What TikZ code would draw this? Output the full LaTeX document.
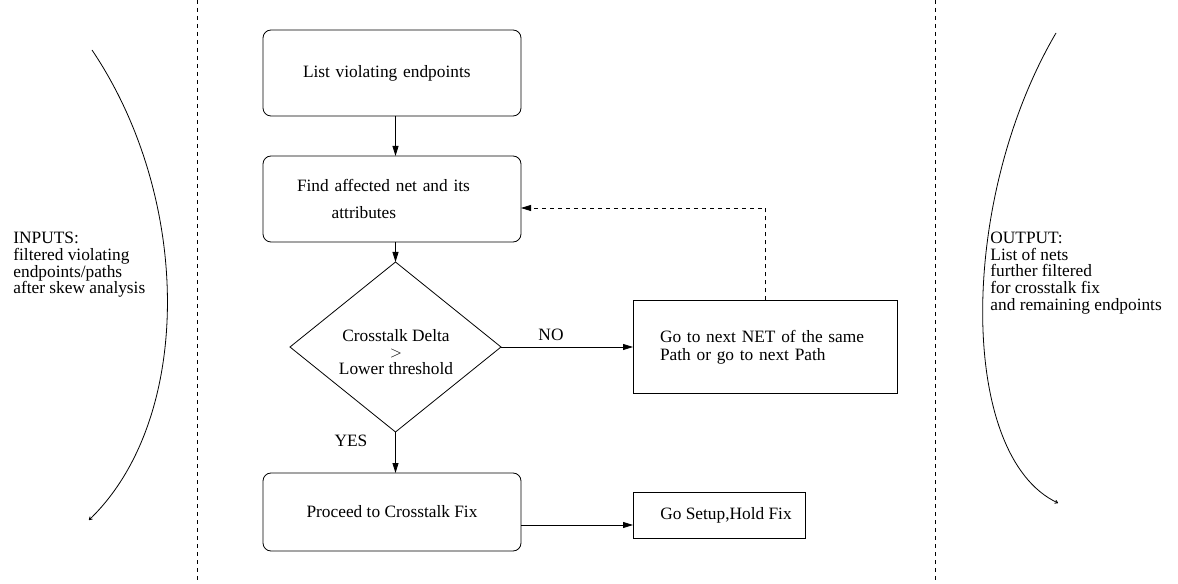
\documentclass[tikz,border=0pt]{standalone}
\usepackage{fontspec}
\setmainfont{Liberation Serif}
\usetikzlibrary{shapes.geometric,arrows.meta}

\tikzset{
  flowbox/.style={draw, rounded corners=6pt, inner sep=0pt, outer sep=0pt, align=center},
  plainbox/.style={draw, inner sep=0pt, outer sep=0pt, align=left},
  decision/.style={draw, diamond, inner sep=0pt, outer sep=0pt},
  flowarrow/.style={-{Triangle[length=7.5pt,width=4.5pt]}},
  sidearrow/.style={-{To[length=2.5pt,width=3pt]}},
  sidetext/.style={anchor=west, inner sep=0pt, align=left}
}

\begin{document}
\begin{tikzpicture}[x=0.75pt,y=0.75pt,yscale=-1,xscale=1,line width=0.6pt,
  font=\fontsize{13pt}{12.5pt}\selectfont]
    \useasboundingbox (0,0) rectangle (1178,584);

    %Shape: dashed separators
    \draw [dash pattern={on 3pt off 3pt}] (197,0) -- (197,584);
    \draw [dash pattern={on 3pt off 3pt}] (935,0) -- (935,584);

    %Shape: side curves
    \draw [sidearrow] (92,50) .. controls (193,200) and (193,420) .. (89,520);
    \draw [sidearrow] (1056,33) .. controls (958,200) and (958,456) .. (1058,503);

    % Text Node
    \node [sidetext] (inputs) at (13,265) {INPUTS:\\filtered violating\\endpoints/paths\\after skew analysis};
    % Text Node
    \node [sidetext] (output) at (990,273) {OUTPUT:\\List of nets\\further filtered\\for crosstalk fix\\and remaining endpoints};

    %Shape: flow boxes
    \node [flowbox, minimum height=64.5pt, inner xsep=30pt, text width=133.5pt, align=left] (list) at (392,73)
      {List violating endpoints};
    \node [flowbox, minimum height=64.5pt, inner xsep=25.5pt, text width=142.5pt, align=left] (find) at (392,199)
      {Find affected net and its\\[7.5pt]\hspace*{26pt}attributes};
    \node [decision, minimum width=158.25pt, minimum height=127.5pt] (delta) at (395.5,347) {};
    \node [inner sep=0pt, align=center] (deltatext) at (396,352) {Crosstalk Delta\\$>$\\Lower threshold};
    \node [plainbox, minimum height=69.75pt, inner xsep=20.25pt, text width=157.5pt] (next) at (765,347)
      {Go to next NET of the same\\[1pt]Path or go to next Path};
    \node [flowbox, minimum width=193.5pt, minimum height=58.5pt] (proceed) at (392,512) {Proceed to Crosstalk Fix};
    \node [plainbox, minimum width=129pt, minimum height=34.5pt, align=center] (setup) at (719,515)
      {\hspace*{10.5pt}Go Setup,Hold Fix};

    %Shape: connectors
    \coordinate (loop) at (765,208);
    \coordinate (fixrow) at (633,525);
    \draw [flowarrow] (list.south -| delta.north) -- (find.north -| delta.north);
    \draw [flowarrow] (find.south -| delta.north) -- (delta.north);
    \draw [flowarrow] (delta.east) -- (next.west |- delta.east);
    \draw [flowarrow] (delta.south) -- (proceed.north -| delta.south);
    \draw [flowarrow, dash pattern={on 3pt off 3pt}] (next.north) -- (loop) -- (find.east |- loop);
    \draw [flowarrow] (proceed.east |- fixrow) -- (setup.west |- fixrow);

    % Text Node
    \node [inner sep=0pt] (no) at (551,335) {NO};
    % Text Node
    \node [inner sep=0pt] (yes) at (351,441) {YES};
\end{tikzpicture}
\end{document}
